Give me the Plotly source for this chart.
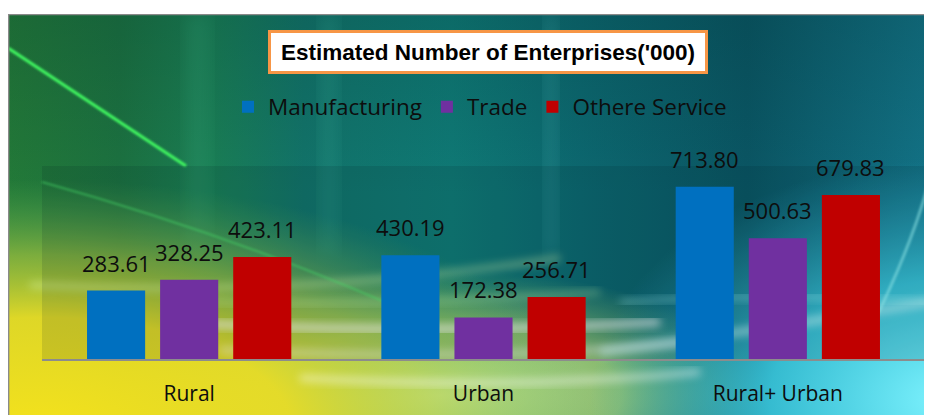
import base64
import plotly.graph_objects as go

categories = ["Rural", "Urban", "Rural+ Urban"]
series_names = ["Manufacturing", "Trade", "Othere Service"]
manufacturing = [283.61, 430.19, 713.80]
trade = [328.25, 172.38, 500.63]
other_service = [423.11, 256.71, 679.83]
title_text = "Estimated Number of Enterprises('000)"

colors = ["#0070C0", "#7030A0", "#C00000"]
series_values = [manufacturing, trade, other_service]

W, H = 932, 415
OFF = 8  # page body margin
# plot area in page pixels
PL, PR, PT, PB = 42, 925, 166, 359
pw, ph = PR - PL, PB - PT

def px_to_paper_x(px):
    return (px - PL) / pw

def px_to_paper_y(py):
    return (PB - py) / ph

FONT = "Open Sans, Noto Sans, sans-serif"

svg = """<svg xmlns='http://www.w3.org/2000/svg' viewBox='8 14 924 401' width='924' height='401' preserveAspectRatio='none'>
<defs>
<linearGradient id='g0' x1='0' y1='0' x2='1' y2='0'>
<stop offset='0' stop-color='#237a38'/>
<stop offset='0.12' stop-color='#1c7240'/>
<stop offset='0.22' stop-color='#1a7f55'/>
<stop offset='0.32' stop-color='#12746a'/>
<stop offset='0.48' stop-color='#0f7a76'/>
<stop offset='0.62' stop-color='#0c6870'/>
<stop offset='0.8' stop-color='#0a5664'/>
<stop offset='1' stop-color='#137488'/>
</linearGradient>
<linearGradient id='gv' x1='0' y1='0' x2='0' y2='1'>
<stop offset='0' stop-color='#002a2a' stop-opacity='0.2'/>
<stop offset='0.45' stop-color='#002a2a' stop-opacity='0'/>
</linearGradient>
<radialGradient id='ry' cx='0' cy='0' r='1' gradientUnits='userSpaceOnUse' gradientTransform='translate(40 430) scale(560 250)'>
<stop offset='0' stop-color='#f4e21c' stop-opacity='1'/>
<stop offset='0.45' stop-color='#e8dc26' stop-opacity='0.95'/>
<stop offset='0.7' stop-color='#b8d040' stop-opacity='0.6'/>
<stop offset='0.88' stop-color='#80c050' stop-opacity='0.25'/>
<stop offset='1' stop-color='#60b050' stop-opacity='0'/>
</radialGradient>
<radialGradient id='rl' cx='0' cy='0' r='1' gradientUnits='userSpaceOnUse' gradientTransform='translate(440 395) scale(330 125)'>
<stop offset='0' stop-color='#dcf0a0' stop-opacity='0.9'/>
<stop offset='0.55' stop-color='#c0e070' stop-opacity='0.7'/>
<stop offset='1' stop-color='#90d070' stop-opacity='0'/>
</radialGradient>
<radialGradient id='rc' cx='0' cy='0' r='1' gradientUnits='userSpaceOnUse' gradientTransform='translate(950 400) scale(360 240)'>
<stop offset='0' stop-color='#80f4ff' stop-opacity='1'/>
<stop offset='0.5' stop-color='#40d4ea' stop-opacity='0.8'/>
<stop offset='1' stop-color='#30b0d0' stop-opacity='0'/>
</radialGradient>
<filter id='b4' x='-20%' y='-50%' width='140%' height='200%'><feGaussianBlur stdDeviation='4'/></filter>
<filter id='b8' x='-20%' y='-50%' width='140%' height='200%'><feGaussianBlur stdDeviation='8'/></filter>
<filter id='b1'><feGaussianBlur stdDeviation='0.8'/></filter>
</defs>
<rect x='8' y='14' width='924' height='401' fill='url(#g0)'/>
<rect x='8' y='14' width='924' height='401' fill='url(#gv)'/>
<rect x='185' y='14' width='25' height='240' fill='#4fd0a0' opacity='0.12' filter='url(#b8)'/>
<rect x='320' y='14' width='18' height='240' fill='#60e0c0' opacity='0.12' filter='url(#b8)'/>
<rect x='545' y='14' width='12' height='240' fill='#80f0f0' opacity='0.14' filter='url(#b8)'/>
<rect x='8' y='14' width='924' height='401' fill='url(#rl)'/>
<rect x='8' y='14' width='924' height='401' fill='url(#ry)'/>
<rect x='8' y='14' width='924' height='401' fill='url(#rc)'/>
<path d='M 30 285 Q 300 298 560 258' stroke='#e0ffb0' stroke-width='6' fill='none' opacity='0.45' filter='url(#b4)'/>
<path d='M 170 322 Q 420 336 660 322' stroke='#ffffff' stroke-width='8' fill='none' opacity='0.65' filter='url(#b4)'/>
<path d='M 220 350 Q 500 362 700 342' stroke='#ffffff' stroke-width='6' fill='none' opacity='0.5' filter='url(#b4)'/>
<path d='M 300 378 Q 520 390 700 372' stroke='#ffffff' stroke-width='6' fill='none' opacity='0.5' filter='url(#b4)'/>
<path d='M 170 300 Q 380 308 600 292' stroke='#d0ffb0' stroke-width='4' fill='none' opacity='0.5' filter='url(#b4)'/>
<path d='M 600 352 Q 760 330 932 302' stroke='#d8ffff' stroke-width='8' fill='none' opacity='0.55' filter='url(#b4)'/>
<path d='M 620 302 Q 780 292 932 302' stroke='#b0ffff' stroke-width='5' fill='none' opacity='0.45' filter='url(#b4)'/>
<path d='M 870 330 Q 915 240 932 170' stroke='#a0ffff' stroke-width='3' fill='none' opacity='0.55' filter='url(#b1)'/>
<path d='M 8 48 L 186 166' stroke='#40f860' stroke-width='3.2' fill='none' filter='url(#b1)'/>
<path d='M 42 182 Q 250 240 430 322' stroke='#50f070' stroke-width='2' fill='none' opacity='0.5' filter='url(#b1)'/>
<path d='M 8 14.6 L 932 14.6 M 8.6 14 L 8.6 415' stroke='#8a8a8a' stroke-width='1.5' fill='none'/>
</svg>"""

bg_src = "data:image/svg+xml;base64," + base64.b64encode(svg.encode()).decode()

fig = go.Figure()
for name, vals, col in zip(series_names, series_values, colors):
    fig.add_trace(go.Bar(
        x=categories, y=vals, name=name,
        marker=dict(color=col, line=dict(width=0)),
        hoverinfo="x+y+name",
    ))

slot_px = 73
annotations = []
for i, vals in enumerate(series_values):
    for cat, v in zip(categories, vals):
        annotations.append(dict(
            x=cat, y=v, xref="x", yref="y",
            text=f"{v:.2f}", showarrow=False,
            xshift=(i - 1) * slot_px, yanchor="bottom", yshift=11,
            font=dict(family=FONT, size=22, color="#0d0d0d"),
        ))

annotations.append(dict(
    x=px_to_paper_x(487.5), y=px_to_paper_y(52), xref="paper", yref="paper",
    text=f"<b>{title_text}</b>", showarrow=False,
    xanchor="center", yanchor="middle",
    font=dict(family="Liberation Sans, Arial, sans-serif", size=22.5, color="#000000"),
    bgcolor="#ffffff", bordercolor="#F79646", borderwidth=3, borderpad=2,
    width=430, height=34,
))

fig.update_layout(
    width=W, height=H,
    margin=dict(l=PL - OFF, r=W - (PR - OFF), t=PT - OFF, b=H - (PB - OFF), pad=0),
    paper_bgcolor="#ffffff",
    plot_bgcolor="rgba(0,0,0,0)",
    barmode="group", bargap=0.255, bargroupgap=0.205,
    showlegend=True,
    legend=dict(
        orientation="h", x=px_to_paper_x(480), y=px_to_paper_y(107),
        xanchor="center", yanchor="middle",
        bgcolor="rgba(0,0,0,0)", borderwidth=0,
        font=dict(family=FONT, size=22.5, color="#0d0d0d"),
        itemwidth=30, traceorder="normal",
    ),
    xaxis=dict(
        showline=True, linecolor="#8c8c8c", linewidth=2,
        ticks="outside", ticklen=15, tickcolor="rgba(0,0,0,0)",
        tickfont=dict(family=FONT, size=21, color="#0d0d0d"),
        showgrid=False, zeroline=False, fixedrange=True,
    ),
    yaxis=dict(range=[0, 800], visible=False, showgrid=False, zeroline=False, fixedrange=True),
    annotations=annotations,
    images=[dict(
        source=bg_src, xref="paper", yref="paper",
        x=px_to_paper_x(8), y=px_to_paper_y(14),
        sizex=(932 - 8) / pw, sizey=(415 - 14) / ph,
        xanchor="left", yanchor="top", sizing="stretch", layer="below",
    )],
    shapes=[dict(
        type="rect", xref="paper", yref="paper", x0=0, x1=1, y0=0, y1=1,
        fillcolor="rgba(0,25,35,0.12)", line=dict(width=0), layer="below",
    )],
)

fig.write_html("out.html")
